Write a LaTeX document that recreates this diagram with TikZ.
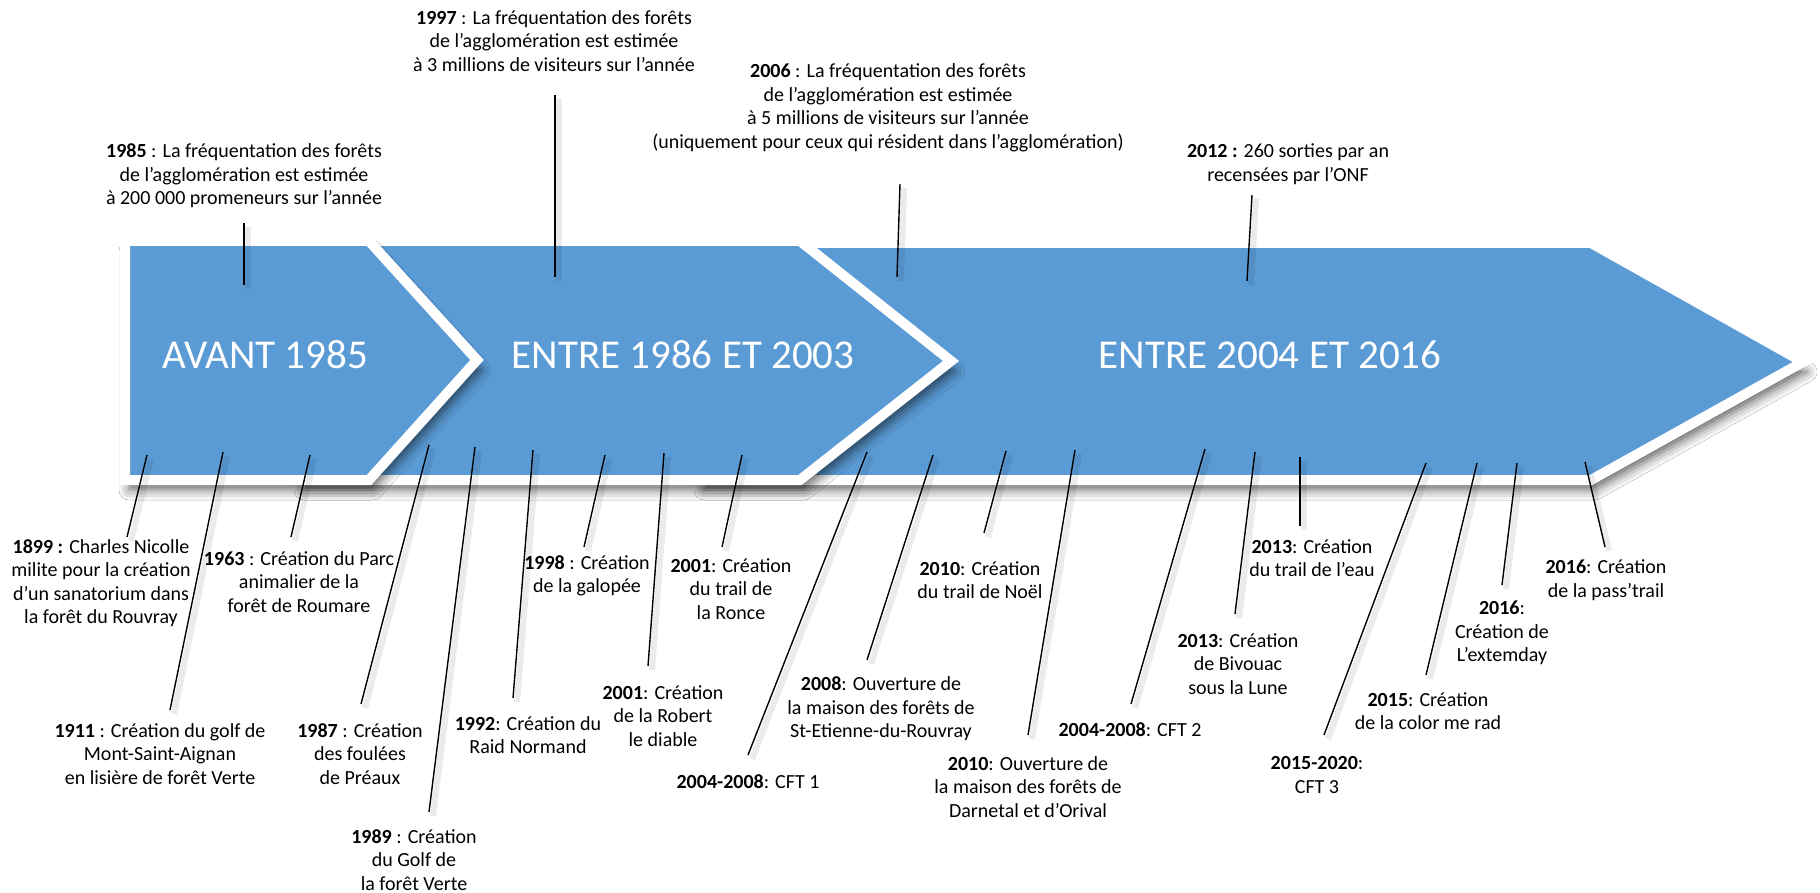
\documentclass[tikz,border=0pt]{standalone}
\usepackage{fontspec}
\setmainfont{Carlito}
\usepackage{tikz}
\usetikzlibrary{shadows.blur}
\definecolor{figBlue}{HTML}{5B9BD5}

\begin{document}
\begin{tikzpicture}[
  x=0.5pt, y=-0.5pt,
  chevron/.style={fill=figBlue, draw=white, line width=5pt, line join=miter,
    blur shadow={shadow xshift=2pt, shadow yshift=-5pt, shadow blur radius=5pt, shadow opacity=60}},
  phase/.style={text=white, inner sep=0pt, font=\fontsize{20.5}{24}\selectfont},
  event/.style={align=center, inner sep=0pt, font=\fontsize{10}{11.75}\selectfont},
  tick/.style={line width=0.7pt},
  tickshadow/.style={line width=3pt, black, opacity=.08}
]
\useasboundingbox (0,0) rectangle (1820,893);
\fill[white] (0,0) rectangle (1820,893);

% Phase arrows (back to front)
\path[chevron] (700,243) -- (1591,243) -- (1803,362) -- (1591,480) -- (700,480) -- cycle;
\path[chevron] (300,241) -- (800,241) -- (951,361) -- (800,480) -- (300,480) -- cycle;
\path[chevron] (125,241) -- (369,241) -- (477,360) -- (369,480) -- (125,480) -- cycle;

% Phase titles
\node[phase] (avant) at (265,355) {AVANT 1985};
\node[phase] (entreA) at (683,355) {ENTRE 1986 ET 2003};
\node[phase] (entreB) at (1270,355) {ENTRE 2004 ET 2016};

% Events above the arrows
\node[event] (e1985) at (244,176) {\textbf{1985} : La fréquentation des forêts\\de l’agglomération est estimée\\à 200~000 promeneurs sur l’année};
\node[event] (e1997) at (554,41) {\textbf{1997} : La fréquentation des forêts\\de l’agglomération est estimée\\à 3 millions de visiteurs sur l’année};
\node[event] (e2006) at (888,108) {\textbf{2006} : La fréquentation des forêts\\de l’agglomération est estimée\\à 5 millions de visiteurs sur l’année\\(uniquement pour ceux qui résident dans l’agglomération)};
\node[event] (e2012) at (1288,164) {\textbf{2012 :} 260 sorties par an\\recensées par l’ONF};

% Events below the arrows
\node[event] (e1899) at (101,583) {\textbf{1899 :} Charles Nicolle\\milite pour la création\\d’un sanatorium dans\\la forêt du Rouvray};
\node[event] (e1911) at (160,754) {\textbf{1911} : Création du golf de\\Mont-Saint-Aignan\\en lisière de forêt Verte};
\node[event] (e1963) at (299,582) {\textbf{1963} : Création du Parc\\animalier de la\\forêt de Roumare};
\node[event] (e1987) at (360,754) {\textbf{1987} : Création\\des foulées\\de Préaux};
\node[event] (e1989) at (414,860) {\textbf{1989} : Création\\du Golf de\\la forêt Verte};
\node[event] (e1992) at (528,735) {\textbf{1992}: Création du\\Raid Normand};
\node[event] (e1998) at (587,576) {\textbf{1998} : Création\\de la galopée};
\node[event] (e2001a) at (663,716) {\textbf{2001}: Création\\de la Robert\\le diable};
\node[event] (e2001b) at (731,589) {\textbf{2001}: Création\\du trail de\\la Ronce};
\node[event] (ecfta) at (748,782) {\textbf{2004-2008}: CFT 1};
\node[event] (e2008) at (881,709) {\textbf{2008}: Ouverture de\\la maison des forêts de\\St-Etienne-du-Rouvray};
\node[event] (e2010a) at (980,580) {\textbf{2010}: Création\\du trail de Noël};
\node[event] (e2010b) at (1028,787) {\textbf{2010}: Ouverture de\\la maison des forêts de\\Darnetal et d’Orival};
\node[event] (ecftb) at (1130,730) {\textbf{2004-2008}: CFT 2};
\node[event] (e2013a) at (1238,664) {\textbf{2013}: Création\\de Bivouac\\sous la Lune};
\node[event] (e2013b) at (1312,558) {\textbf{2013}: Création\\du trail de l’eau};
\node[event] (ecftc) at (1317,775) {\textbf{2015-2020}:\\CFT 3};
\node[event] (e2015) at (1428,711) {\textbf{2015}: Création\\de la color me rad};
\node[event] (e2016a) at (1502,633) {\textbf{2016}:\\Création de\\L’extemday};
\node[event] (e2016b) at (1606,580) {\textbf{2016}: Création\\de la pass’trail};

% Tick ends: t on the arrow, b next to the label
\coordinate (t1985) at (244,285);   \coordinate (b1985) at (244,223);
\coordinate (t1997) at (555,277);   \coordinate (b1997) at (555,95);
\coordinate (t2006) at (897,277);   \coordinate (b2006) at (900,184);
\coordinate (t2012) at (1247,281);  \coordinate (b2012) at (1252,195);
\coordinate (t1899) at (147,455);   \coordinate (b1899) at (127,537);
\coordinate (t1911) at (223,452);   \coordinate (b1911) at (170,710);
\coordinate (t1963) at (310,455);   \coordinate (b1963) at (291,537);
\coordinate (t1987) at (429,445);   \coordinate (b1987) at (361,704);
\coordinate (t1989) at (475,447);   \coordinate (b1989) at (429,812);
\coordinate (t1992) at (533,450);   \coordinate (b1992) at (513,698);
\coordinate (t1998) at (605,455);   \coordinate (b1998) at (584,547);
\coordinate (t2001a) at (664,453);  \coordinate (b2001a) at (648,666);
\coordinate (t2001b) at (742,455);  \coordinate (b2001b) at (722,547);
\coordinate (tcfta) at (867,452);   \coordinate (bcfta) at (748,755);
\coordinate (t2008) at (933,455);   \coordinate (b2008) at (867,660);
\coordinate (t2010a) at (1006,451); \coordinate (b2010a) at (984,533);
\coordinate (t2010b) at (1075,450); \coordinate (b2010b) at (1028,735);
\coordinate (tcftb) at (1205,449);  \coordinate (bcftb) at (1131,704);
\coordinate (t2013a) at (1255,452); \coordinate (b2013a) at (1235,614);
\coordinate (t2013b) at (1300,457); \coordinate (b2013b) at (1300,526);
\coordinate (tcftc) at (1426,463);  \coordinate (bcftc) at (1324,735);
\coordinate (t2015) at (1477,463);  \coordinate (b2015) at (1426,675);
\coordinate (t2016a) at (1517,463); \coordinate (b2016a) at (1502,585);
\coordinate (t2016b) at (1585,462); \coordinate (b2016b) at (1605,547);

\foreach \n in {1985,1997,2006,2012,1899,1911,1963,1987,1989,1992,1998,2001a,2001b,cfta,2008,2010a,2010b,cftb,2013a,2013b,cftc,2015,2016a,2016b} {
  \draw[tickshadow] ([shift={(4,4)}]t\n) -- ([shift={(4,4)}]b\n);
  \draw[tick] (t\n) -- (b\n);
}
\end{tikzpicture}
\end{document}
